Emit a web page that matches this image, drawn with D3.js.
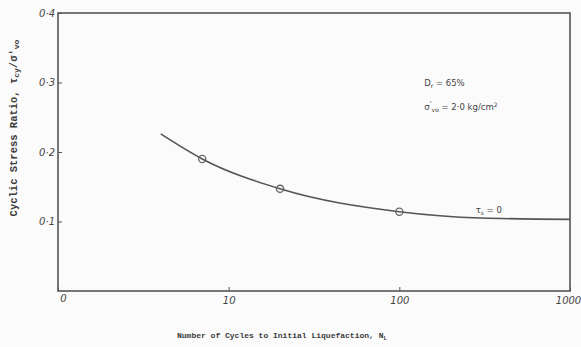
<!DOCTYPE html>
<html>
<head>
<meta charset="utf-8">
<script src="https://cdn.jsdelivr.net/npm/d3@7"></script>
<style>
  body { margin: 0; background: #fbfbfb; }
  svg { display: block; }
  .axis path, .axis line { stroke: #555; }
  .axis text { fill: #444; font-family: "DejaVu Sans", sans-serif; font-style: italic; font-size: 10px; }
  .title { fill: #3c3c3c; font-family: "Liberation Mono", monospace; font-weight: bold; }
  .note { fill: #444; font-family: "DejaVu Sans", sans-serif; font-size: 8.5px; }
</style>
</head>
<body>
<div id="chart-container"></div>
<script>
// test points (circles)
const testCycles = [7, 20, 100];
const testRatio = [0.19, 0.147, 0.114];

// fitted curve
const curveCycles = [4, 7, 20, 100, 300, 1000];
const curveRatio = [0.226, 0.19, 0.147, 0.114, 0.105, 0.103];

// ticks
const xTicks = [1, 10, 100, 1000];
const xTickLabels = ["0", "10", "100", "1000"];
const yTicks = [0.1, 0.2, 0.3, 0.4];
const yTickLabels = ["0·1", "0·2", "0·3", "0·4"];

{
  const totalWidth = 581;
  const totalHeight = 347;
  const margin = { top: 13, left: 58, bottom: 56, right: 11 };
  const width = totalWidth - margin.left - margin.right;
  const height = totalHeight - margin.top - margin.bottom;

  const svg = d3.select('#chart-container')
    .append('svg')
    .attr('width', totalWidth)
    .attr('height', totalHeight);

  const g = svg.append('g')
    .attr('transform', `translate(${margin.left}, ${margin.top})`);

  const xScale = d3.scaleLog()
    .domain([1, 1000])
    .range([0, width]);

  const yScale = d3.scaleLinear()
    .domain([0, 0.4])
    .range([height, 0]);

  // frame
  g.append('rect')
    .attr('width', width)
    .attr('height', height)
    .attr('fill', 'none')
    .attr('stroke', '#555')
    .attr('stroke-width', 1.6);

  // x axis
  const xAxis = d3.axisBottom(xScale)
    .tickValues(xTicks)
    .tickFormat((d, i) => xTickLabels[i])
    .tickSize(-4)
    .tickPadding(6);
  const xAxisGroup = g.append('g')
    .attr('class', 'axis')
    .attr('transform', `translate(0, ${height})`)
    .call(xAxis);
  xAxisGroup.select('.domain').remove();
  xAxisGroup.selectAll('text').filter((d, i) => i === 0).attr('dx', 5).attr('dy', 5);
  xAxisGroup.selectAll('text').filter((d, i) => i === 3).attr('dx', -2);

  // y axis
  const yAxis = d3.axisLeft(yScale)
    .tickValues(yTicks)
    .tickFormat((d, i) => yTickLabels[i])
    .tickSize(-4)
    .tickPadding(3);
  const yAxisGroup = g.append('g')
    .attr('class', 'axis')
    .call(yAxis);
  yAxisGroup.select('.domain').remove();

  // curve
  const line = d3.line()
    .x((d, i) => xScale(curveCycles[i]))
    .y(d => yScale(d))
    .curve(d3.curveMonotoneX);
  g.append('path')
    .datum(curveRatio)
    .attr('d', line)
    .attr('fill', 'none')
    .attr('stroke', '#555')
    .attr('stroke-width', 1.6);

  // test points
  g.selectAll('circle.pt')
    .data(testRatio)
    .enter()
    .append('circle')
    .attr('class', 'pt')
    .attr('cx', (d, i) => xScale(testCycles[i]))
    .attr('cy', d => yScale(d))
    .attr('r', 3.6)
    .attr('fill', 'none')
    .attr('stroke', '#666')
    .attr('stroke-width', 1.3);

  // annotations
  const dr = g.append('text')
    .attr('class', 'note')
    .attr('x', xScale(140))
    .attr('y', yScale(0.295));
  dr.append('tspan').text('D');
  dr.append('tspan').text('r').attr('dy', 2).attr('font-size', 6);
  dr.append('tspan').text(' = 65%').attr('dy', -2);

  const sig = g.append('text')
    .attr('class', 'note')
    .attr('x', xScale(140))
    .attr('y', yScale(0.26));
  sig.append('tspan').text('σ');
  sig.append('tspan').text("'").attr('dy', -4).attr('font-size', 7);
  sig.append('tspan').text('vo').attr('dy', 6).attr('font-size', 6);
  sig.append('tspan').text(' = 2·0 kg/cm').attr('dy', -2);
  sig.append('tspan').text('2').attr('dy', -3).attr('font-size', 6);

  const ts = g.append('text')
    .attr('class', 'note')
    .attr('x', xScale(280))
    .attr('y', yScale(0.112));
  ts.append('tspan').text('τ');
  ts.append('tspan').text('s').attr('dy', 2).attr('font-size', 6);
  ts.append('tspan').text(' = 0').attr('dy', -2);

  // x title
  const xt = svg.append('text')
    .attr('class', 'title')
    .attr('font-size', 8)
    .attr('x', 177)
    .attr('y', 338);
  xt.append('tspan').text('Number of Cycles to Initial Liquefaction, N');
  xt.append('tspan').text('L').attr('dy', 2).attr('font-size', 6);

  // y title
  const yt = svg.append('text')
    .attr('class', 'title')
    .attr('font-size', 10.5)
    .attr('transform', 'translate(17, 128) rotate(-90)')
    .attr('text-anchor', 'middle');
  yt.append('tspan').text('Cyclic Stress Ratio, τ');
  yt.append('tspan').text('cy').attr('dy', 2).attr('font-size', 8);
  yt.append('tspan').text("/σ'").attr('dy', -2);
  yt.append('tspan').text('vo').attr('dy', 2).attr('font-size', 8);
}
</script>
</body>
</html>
